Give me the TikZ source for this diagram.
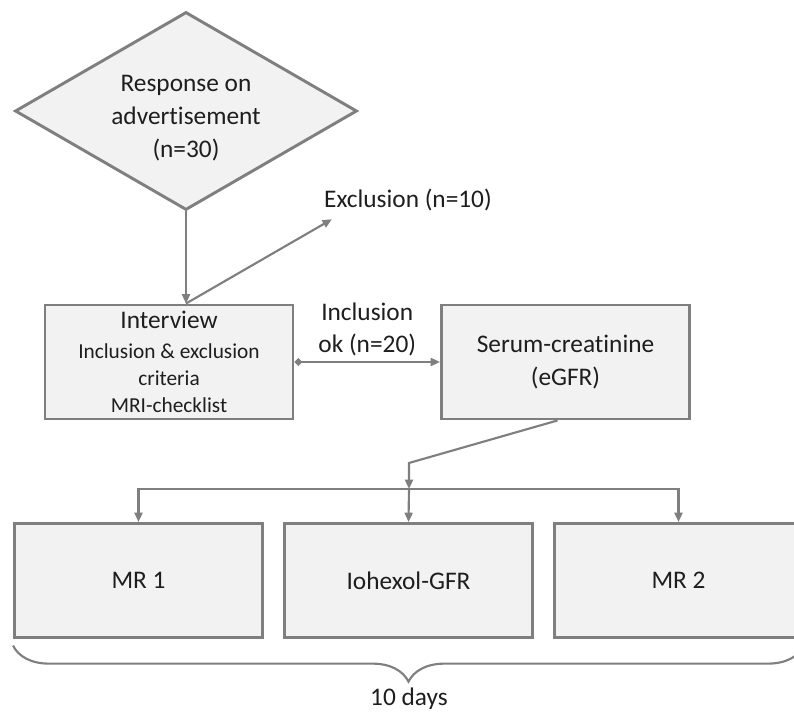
\documentclass[tikz,border=0pt]{standalone}
\usepackage{fontspec}
\setmainfont{Carlito}[Ligatures={NoCommon}]
\usetikzlibrary{shapes.geometric, arrows.meta, decorations.pathreplacing}

\definecolor{boxgray}{HTML}{F2F2F2}
\definecolor{linegray}{HTML}{7F7F7F}
\definecolor{textgray}{HTML}{1E1E1E}
\newcommand{\subtext}{\fontsize{16}{19.5}\selectfont}

\begin{document}
\begin{tikzpicture}[x=0.75pt, y=-0.75pt, font=\fontsize{19}{24.5}\selectfont, text=textgray, >={Triangle[length=7pt, width=6pt]}, block/.style={rectangle, draw=linegray, line width=2.2pt, fill=boxgray, minimum width=186pt, minimum height=85.5pt, align=center, inner sep=0pt}, decision/.style={diamond, draw=linegray, line width=2.2pt, fill=boxgray, minimum width=256.5pt, minimum height=148.5pt, shape aspect=1.73, inner sep=0pt}, line/.style={draw=linegray, line width=1.6pt}]

\useasboundingbox (0,0) rectangle (794,712);

\node[decision] (response) at (186,111) {};
\node[align=center] (responsetext) at (186,118) {Response on\\advertisement\\(n=30)};
\node[inner sep=0pt] (exclusion) at (408,200) {Exclusion (n=10)};
\node[block] (interview) at (169,362) {Interview\\[-2pt]\subtext Inclusion \& exclusion\\[-4.5pt]\subtext criteria\\[-4.5pt]\subtext MRI-checklist};
\node[block] (serum) at (565.5,362) {Serum-creatinine\\(eGFR)};
\node[block] (mr1) at (138.5,580.5) {MR 1};
\node[block, right of=mr1, node distance=202.5pt] (iohexol) {Iohexol-GFR};
\node[block, right of=iohexol, node distance=202.5pt] (mr2) {MR 2};
\node[inner sep=0pt] (days) at (409,699) {10 days};

\coordinate (entry) at (response.south |- interview.north);
\coordinate (bend) at (409,463);
\coordinate (split) at (409,489);

\draw[line, ->] (response.south) -- (entry);
\draw[line, ->] (entry) -- ([shift={(8,8)}]exclusion.south west);
\draw[line, {Diamond[length=6pt, width=6pt]}->] (interview.east) -- node[above, align=center] {Inclusion\\ok (n=20)} (serum.west);
\draw[line, ->] ([xshift=-6pt]serum.south) -- (bend) -- (split);
\draw[line, ->] (split) -| (mr1.north);
\draw[line, ->] (split) -- (iohexol.north);
\draw[line, ->] (split) -| (mr2.north);
\draw[line, decorate, decoration={brace, mirror, amplitude=27pt}] ([yshift=-5pt]mr1.south west) -- ([yshift=-5pt]mr2.south east);

\end{tikzpicture}
\end{document}
